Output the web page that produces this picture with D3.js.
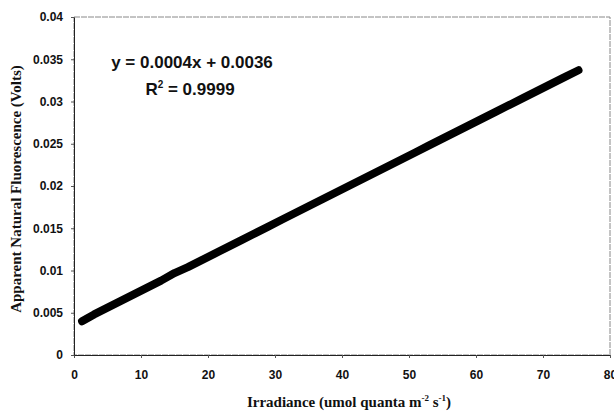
<!DOCTYPE html>
<html>
<head>
<meta charset="utf-8">
<script src="https://cdn.jsdelivr.net/npm/d3@7"></script>
<style>
  body { margin: 0; background: #fff; }
  .tick text { font-family: "Liberation Sans", Arial, sans-serif; font-weight: bold; font-size: 12px; fill: #111; }
</style>
</head>
<body>
<div id="chart"></div>
<script>
// irradiance readings (umol quanta m-2 s-1)
var irradiance = [1.2, 3, 5, 7, 9, 11, 13, 15, 17, 19, 21, 23, 25, 27, 29, 31, 33, 35, 37, 39, 41,
                  43, 45, 47, 49, 51, 53, 55, 57, 59, 61, 63, 65, 67, 69, 71, 73, 75.3];
// apparent natural fluorescence (Volts)
var fluorescence = [0.0040, 0.0048, 0.0056, 0.0064, 0.0072, 0.0080, 0.0088, 0.0097, 0.0104, 0.0112,
                    0.0120, 0.0128, 0.0136, 0.0144, 0.0152, 0.0160, 0.0168, 0.0176, 0.0184, 0.0192,
                    0.0200, 0.0208, 0.0216, 0.0224, 0.0232, 0.0240, 0.0248, 0.0256, 0.0264, 0.0272,
                    0.0280, 0.0288, 0.0296, 0.0304, 0.0312, 0.0320, 0.0328, 0.0337];
var xTicks = [0, 10, 20, 30, 40, 50, 60, 70, 80];
var yTicks = [0, 0.005, 0.01, 0.015, 0.02, 0.025, 0.03, 0.035, 0.04];
var equationText = "y = 0.0004x + 0.0036";
var r2Value = "0.9999";

var W = 614, H = 412;
var margin = {top: 17, right: 4, bottom: 57, left: 74},
    width = W - margin.left - margin.right,
    height = H - margin.top - margin.bottom;

var svg = d3.select("#chart").append("svg")
    .attr("width", W)
    .attr("height", H);

var g = svg.append("g")
    .attr("transform", "translate(" + margin.left + "," + margin.top + ")");

var x = d3.scaleLinear().domain([0, 80]).range([0, width]);
var y = d3.scaleLinear().domain([0, 0.04]).range([height, 0]);

// plot frame, top/right are lighter in the original
g.append("rect")
    .attr("width", width).attr("height", height)
    .attr("fill", "none").attr("stroke", "#888").attr("stroke-width", 1)
    .attr("stroke-dasharray", "6,1");

var xAxis = g.append("g")
    .attr("transform", "translate(0," + height + ")")
    .call(d3.axisBottom(x).tickValues(xTicks).tickSize(3).tickSizeOuter(0)
        .tickFormat(function(d) { return d; }));
xAxis.selectAll("text").attr("dy", "1.5em");

var yAxis = g.append("g")
    .call(d3.axisLeft(y).tickValues(yTicks).tickSize(3).tickSizeOuter(0)
        .tickFormat(function(d) { return d === 0 ? "0" : String(+d.toFixed(3)); }));
yAxis.selectAll("text").attr("x", -11);

g.selectAll(".domain").attr("stroke", "#222");
g.selectAll(".tick line").attr("stroke", "#555");

// data line
var pts = irradiance.map(function(d, i) { return [d, fluorescence[i]]; });
g.append("path")
    .datum(pts)
    .attr("fill", "none")
    .attr("stroke", "#000")
    .attr("stroke-width", 8)
    .attr("stroke-linecap", "round")
    .attr("stroke-linejoin", "round")
    .attr("d", d3.line()
        .x(function(d) { return x(d[0]); })
        .y(function(d) { return y(d[1]); }));

// equation
var eq = svg.append("g")
    .attr("font-family", "'Liberation Sans', Arial, sans-serif")
    .attr("font-weight", "bold")
    .attr("font-size", "17px")
    .attr("fill", "#111")
    .attr("text-anchor", "middle");
eq.append("text").attr("x", 192).attr("y", 68).text(equationText);
var r2 = eq.append("text").attr("x", 190).attr("y", 95);
r2.append("tspan").text("R");
r2.append("tspan").attr("font-size", "10px").attr("dy", -7).text("2");
r2.append("tspan").attr("dy", 7).text(" = " + r2Value);

// axis titles
var xt = svg.append("text")
    .attr("x", 349).attr("y", 407)
    .attr("text-anchor", "middle")
    .attr("font-family", "'Liberation Serif', 'Times New Roman', serif")
    .attr("font-weight", "bold").attr("font-size", "15px").attr("fill", "#111");
xt.append("tspan").text("Irradiance (umol quanta m");
xt.append("tspan").attr("font-size", "9px").attr("dy", -6).text("-2");
xt.append("tspan").attr("dy", 6).text(" s");
xt.append("tspan").attr("font-size", "9px").attr("dy", -6).text("-1");
xt.append("tspan").attr("dy", 6).text(")");

svg.append("text")
    .attr("transform", "translate(21,189) rotate(-90)")
    .attr("text-anchor", "middle")
    .attr("font-family", "'Liberation Serif', 'Times New Roman', serif")
    .attr("font-weight", "bold").attr("font-size", "15px").attr("fill", "#111")
    .text("Apparent Natural Fluorescence (Volts)");
</script>
</body>
</html>
